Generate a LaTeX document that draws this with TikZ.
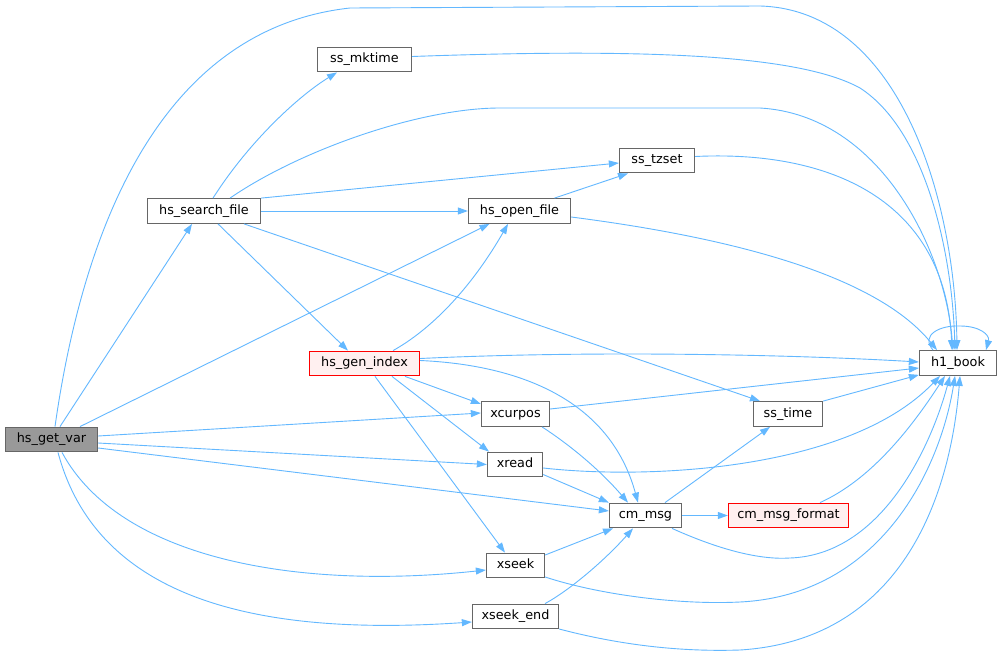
\documentclass[tikz,border=0pt]{standalone}
\usepackage{fontspec}
\setmainfont{DejaVu Sans}
\usetikzlibrary{arrows.meta}
\definecolor{edgeblue}{HTML}{63B8FF}
\definecolor{nodeborder}{HTML}{666666}
\definecolor{rootfill}{HTML}{999999}
\definecolor{redfill}{HTML}{FFF0F0}
\begin{document}
\begin{tikzpicture}[x=1pt,y=-1pt,
  fn/.style={draw=nodeborder,fill=white,line width=1.3pt,inner sep=0pt,
    minimum height=24.5pt,text height=9.6pt,text depth=3pt,
    font=\fontsize{12.8}{15}\selectfont},
  rootfn/.style={fn,fill=rootfill},
  redfn/.style={fn,draw=red,fill=redfill},
  call/.style={draw=edgeblue,line width=0.9pt,-{Triangle[length=10pt,width=7pt]}}
]
\useasboundingbox (0,0) rectangle (1003,655);
\fill[white] (0,0) rectangle (1003,655);

\node[rootfn,minimum width=92pt] (gv) at (51.5,439.5) {hs\_get\_var};
\node[fn,minimum width=113pt] (sf) at (204,211) {hs\_search\_file};
\node[fn,minimum width=94pt] (mk) at (364.5,59.5) {ss\_mktime};
\node[fn,minimum width=102pt] (of) at (519.5,211) {hs\_open\_file};
\node[fn,minimum width=75pt] (tz) at (657,160.5) {ss\_tzset};
\node[redfn,minimum width=110pt] (gi) at (364.5,363.5) {hs\_gen\_index};
\node[fn,minimum width=77pt] (h1) at (958,363) {h1\_book};
\node[fn,minimum width=68pt] (xc) at (515.5,414) {xcurpos};
\node[fn,minimum width=69pt] (st) at (788,414) {ss\_time};
\node[fn,minimum width=55pt] (xr) at (515,464.5) {xread};
\node[fn,minimum width=72pt] (cm) at (645.5,515.5) {cm\_msg};
\node[redfn,minimum width=120pt] (cf) at (788.5,515.5) {cm\_msg\_format};
\node[fn,minimum width=58pt] (xs) at (515.5,565.5) {xseek};
\node[fn,minimum width=86pt] (xe) at (515.5,616.5) {xseek\_end};

% hs_get_var
\draw[call] ([xshift=8.5]gv.north) -- ([xshift=-12]sf.south);
\draw[call] ([xshift=3.5]gv.north) .. controls (80,250) and (150,30) .. (350,8)
  -- (760,6) .. controls (900,10) and (955,200) .. ([xshift=-1]h1.north);
\draw[call] ([xshift=28.5]gv.north) -- ([xshift=-30]of.south);
\draw[call] ([yshift=3.5]gv.east) -- ([yshift=1]xc.west);
\draw[call] ([yshift=-3.5]gv.east) -- (xr.west);
\draw[call] ([yshift=-8.5]gv.east) -- ([yshift=4.5]cm.west);
\draw[call] ([xshift=10.5]gv.south) .. controls (120,560) and (300,590) .. ([yshift=-4.5]xs.west);
\draw[call] ([xshift=6.5]gv.south) .. controls (100,610) and (280,635) .. ([yshift=-5.5]xe.west);

% hs_search_file
\draw[call] ([xshift=9]sf.north) .. controls (250,140) and (300,95) .. ([xshift=-27.5]mk.south);
\draw[call] ([xshift=26]sf.north) .. controls (300,150) and (420,108) .. (500,108)
  -- (760,108) .. controls (880,115) and (945,250) .. ([xshift=-5]h1.north);
\draw[call] (sf.north east) -- ([yshift=-2.5]tz.west);
\draw[call] (sf.east) -- (of.west);
\draw[call] ([xshift=40]sf.south) -- ([xshift=-28]st.north);
\draw[call] ([xshift=14]sf.south) -- ([xshift=-16.5]gi.north);

% ss_mktime, ss_tzset, hs_open_file
\draw[call] ([yshift=3]mk.east) .. controls (650,48) and (800,55) .. (860,88)
  .. controls (925,130) and (952,250) .. ([xshift=-3]h1.north);
\draw[call] ([yshift=4]tz.east) .. controls (830,150) and (945,200) .. ([xshift=-6]h1.north);
\draw[call] ([xshift=35]of.north) -- ([xshift=-29]tz.south);
\draw[call] ([yshift=-6]of.east) .. controls (750,240) and (880,280) .. ([xshift=-21]h1.north);

% hs_gen_index
\draw[call] ([xshift=28.5]gi.north) .. controls (430,330) and (470,290) .. ([xshift=-11.5]of.south);
\draw[call] ([yshift=5]gi.east) .. controls (600,350) and (800,355) .. ([yshift=1]h1.west);
\draw[call] ([xshift=40.5]gi.south) -- ([yshift=10]xc.west);
\draw[call] ([xshift=27.5]gi.south) -- ([xshift=-26]xr.north);
\draw[call] ([xshift=10.5]gi.south) -- ([xshift=-10.5]xs.north);
\draw[call] ([yshift=3]gi.east) .. controls (520,365) and (610,400) .. ([xshift=-7.5]cm.north);

% middle column
\draw[call] ([yshift=5]xc.east) -- ([yshift=-5]h1.west);
\draw[call] ([xshift=26.5]xc.south) .. controls (570,445) and (600,470) .. ([xshift=-17.5]cm.north);
\draw[call] (st.north east) -- ([yshift=1]h1.south west);
\draw[call] ([yshift=-3.5]xr.east) .. controls (650,480) and (850,470) .. ([xshift=-18]h1.south);
\draw[call] ([yshift=-10]xr.east) -- (cm.north west);
\draw[call] ([xshift=19.5]cm.north) -- ([xshift=-18]st.south);
\draw[call] (cm.east) -- (cf.west);
\draw[call] ([xshift=26.5]cm.south) .. controls (720,550) and (760,560) .. (790,558)
  .. controls (880,555) and (930,450) .. ([xshift=-8]h1.south);
\draw[call] ([xshift=31.5]cf.north) .. controls (870,480) and (910,430) .. ([xshift=-13]h1.south);
\draw[call] ([yshift=10.5]xs.east) -- ([xshift=-32.5]cm.south);
\draw[call] ([yshift=-11.5]xs.east) .. controls (600,595) and (680,605) .. (740,602)
  .. controls (880,595) and (940,470) .. ([xshift=-3]h1.south);
\draw[call] ([xshift=29.5]xe.north) .. controls (570,590) and (605,560) .. ([xshift=-12.5]cm.south);
\draw[call] ([yshift=-12.5]xe.east) .. controls (620,645) and (680,652) .. (740,650)
  .. controls (900,640) and (950,500) .. ([xshift=2]h1.south);

% self loop
\draw[call] ([xshift=-25]h1.north) .. controls (920,335) and (940,325) .. (960,326)
  .. controls (980,326) and (990,335) .. ([xshift=28]h1.north);
\end{tikzpicture}
\end{document}
